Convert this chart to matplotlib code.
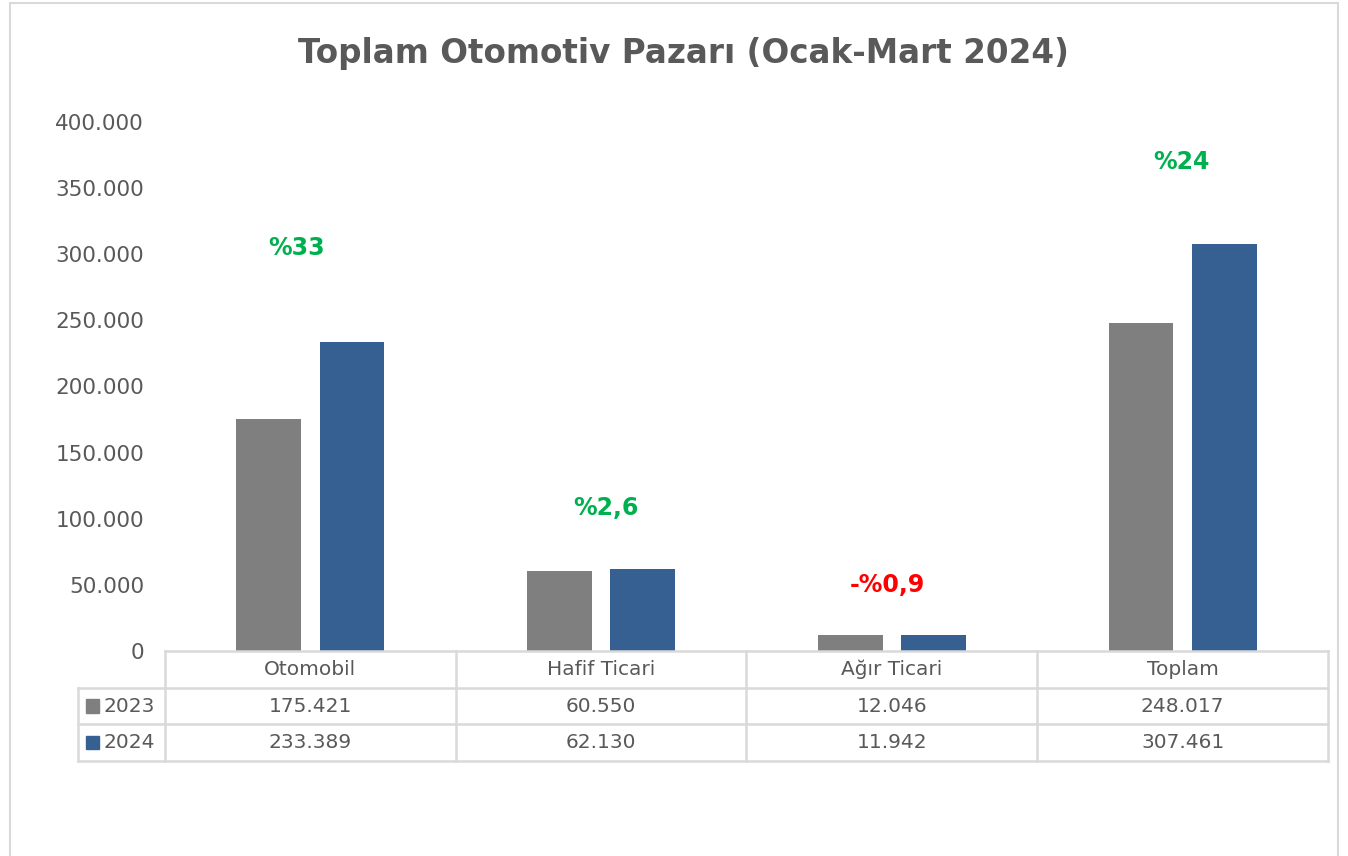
import matplotlib
matplotlib.use("Agg")
import matplotlib.pyplot as plt
from matplotlib.patches import Rectangle

# veriler
kategoriler = ["Otomobil", "Hafif Ticari", "Ağır Ticari", "Toplam"]
yillar = ["2023", "2024"]
satis_2023 = [175421, 60550, 12046, 248017]
satis_2024 = [233389, 62130, 11942, 307461]
degisim = ["%33", "%2,6", "-%0,9", "%24"]
degisim_y = [305000, 108000, 50000, 370000]
y_ticks = [0, 50000, 100000, 150000, 200000, 250000, 300000, 350000, 400000]

renk_2023 = "#7F7F7F"
renk_2024 = "#366092"
metin = "#595959"
cizgi = "#D9D9D9"

def tr_fmt(v):
    return f"{v:,}".replace(",", ".")

W, H = 1348, 856
fig = plt.figure(figsize=(W / 100, H / 100), dpi=100)
plt.rcParams['font.family'] = ['DejaVu Sans']

# dis cerceve
fig.patches.append(Rectangle((10 / W, -0.01), 1328 / W, (856 - 3) / H + 0.01,
                             transform=fig.transFigure, fill=False,
                             edgecolor=cizgi, linewidth=1.5))

fig.text(683 / W, 1 - 53 / H, "Toplam Otomotiv Pazarı (Ocak-Mart 2024)",
         ha="center", va="center", fontsize=23.5, fontweight="bold", color=metin)

# grafik alani
x0, x1 = 165, 1328
y0, y1 = 651, 122
ax = fig.add_axes([x0 / W, (H - y0) / H, (x1 - x0) / W, (y0 - y1) / H])
n = len(kategoriler)
merkez = [i + 0.5 for i in range(n)]
gen = 0.223
ax.bar([c - 0.143 for c in merkez], satis_2023, width=gen, color=renk_2023)
ax.bar([c + 0.143 for c in merkez], satis_2024, width=gen, color=renk_2024)
ax.set_xlim(0, n)
ax.set_ylim(0, 400000)
ax.set_yticks(y_ticks)
ax.set_yticklabels([tr_fmt(v) for v in y_ticks], fontsize=15.5, color=metin)
ax.tick_params(axis="y", length=0, pad=15)
ax.set_xticks([])
for s in ax.spines.values():
    s.set_visible(False)

kaydir = [-14, 5, -5, -1]  # etiketlerin yatay kaymasi (px)
for c, t, yv, dx in zip(merkez, degisim, degisim_y, kaydir):
    ax.text(c + dx / 291, yv, t, ha="center", va="center", fontsize=17,
            fontweight="bold", color="#FF0000" if t.startswith("-") else "#00B050")

# veri tablosu
etiket_w = 87 / 291
tx0 = 78
ty1 = 761
tax = fig.add_axes([tx0 / W, (H - ty1) / H, (x1 - tx0) / W, (ty1 - y0) / H])
tax.set_xlim(-etiket_w, n)
tax.set_ylim(3, 0)
tax.axis("off")
lw = 1.8
# yatay cizgiler
tax.plot([0, n], [0, 0], color=cizgi, lw=lw, clip_on=False)
for r in [1, 2, 3]:
    tax.plot([-etiket_w, n], [r, r], color=cizgi, lw=lw, clip_on=False)
# dikey cizgiler
tax.plot([-etiket_w, -etiket_w], [1, 3], color=cizgi, lw=lw, clip_on=False)
for i in range(n + 1):
    tax.plot([i, i], [0, 3], color=cizgi, lw=lw, clip_on=False)

fs = 14.5
for c, k in zip(merkez, kategoriler):
    tax.text(c, 0.5, k, ha="center", va="center", fontsize=fs, color=metin)
for c, v in zip(merkez, satis_2023):
    tax.text(c, 1.5, tr_fmt(v), ha="center", va="center", fontsize=fs, color=metin)
for c, v in zip(merkez, satis_2024):
    tax.text(c, 2.5, tr_fmt(v), ha="center", va="center", fontsize=fs, color=metin)

kare = 13 / 291
for r, (yil, renk) in enumerate(zip(yillar, [renk_2023, renk_2024])):
    tax.add_patch(Rectangle((-etiket_w + 8 / 291, r + 1.5 - 0.18), kare, 0.36,
                            color=renk, clip_on=False))
    tax.text(-etiket_w + 26 / 291, r + 1.5, yil, ha="left", va="center",
             fontsize=fs, color=metin)

fig.savefig("out.png", dpi=100)
